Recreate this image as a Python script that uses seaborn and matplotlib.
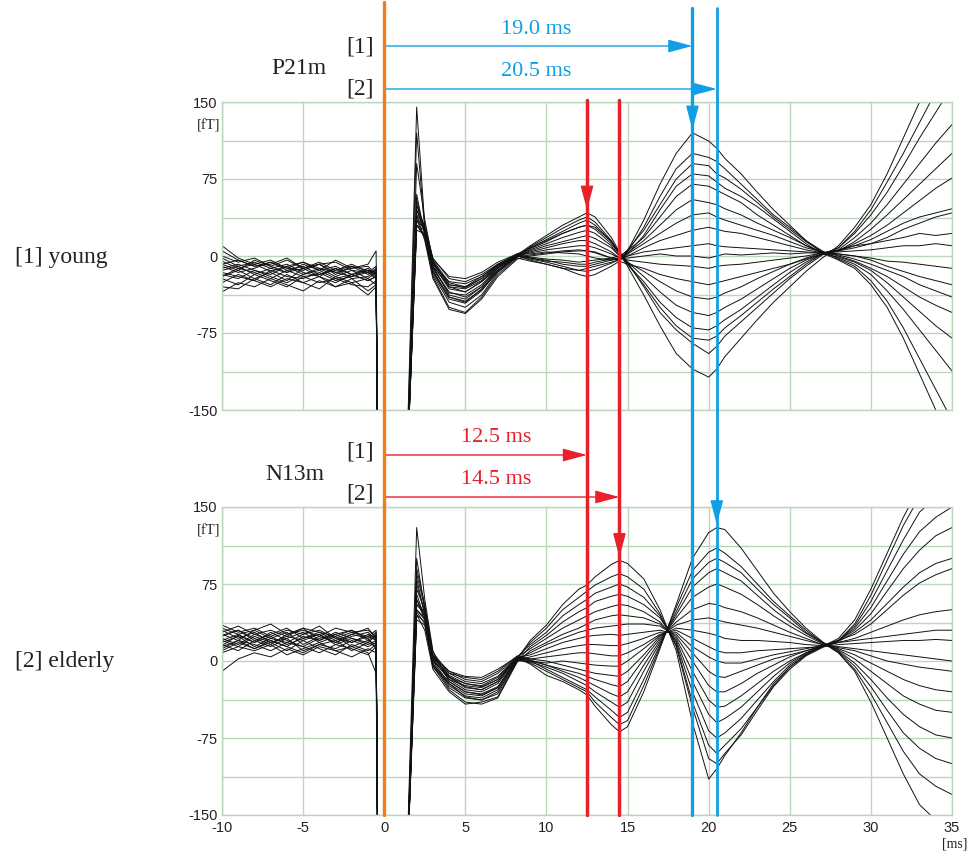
import numpy as np
import pandas as pd
import matplotlib
matplotlib.use('Agg')
import matplotlib.pyplot as plt
import matplotlib.transforms as mtransforms
from matplotlib.lines import Line2D
import seaborn as sns

sns.set_style('white')
plt.rcParams['font.family'] = ['Liberation Sans', 'DejaVu Sans']
plt.rcParams['axes.unicode_minus'] = False

# sampling times (ms)
time_ms = [-10, -9, -8, -7, -6, -5, -4, -3, -2, -1, -0.5,
           -0.3, 1.3,
           2, 2.5, 3, 4, 5, 6, 7, 8.2,
           9, 10, 11, 12, 12.5, 13, 14, 14.5, 15, 16, 17, 18, 19, 20, 20.5, 21,
           22, 23, 24, 25, 26, 27, 28, 29, 30, 31, 32, 33, 34, 35]

# [1] young, waveforms in fT
young_traces = [
    [-5, -12, -8, -15, -10, -18, -12, -20, -14, -22, -16, -400, -250, 145, 30, -10, -30, -35, -25, -12, 0,
     -4, -8, -12, -18, -20, -18, -10, -5, 5, 35, 70, 100, 120, 112, 105, 95,
     80, 62, 45, 30, 15, 3, -4, -12, -28, -50, -80, -115, -150, -185],
    [10, -2, -8, -4, -12, -6, -14, -10, -18, -12, -20, -400, -250, 120, 25, -15, -40, -45, -32, -15, 0,
     -3, -6, -10, -14, -15, -13, -7, -3, 4, 28, 58, 85, 100, 96, 92, 85,
     70, 55, 40, 28, 15, 5, -3, -10, -24, -44, -70, -100, -130, -160],
    [-20, -14, -22, -16, -24, -12, -20, -26, -18, -24, -20, -400, -250, 90, 35, -5, -28, -30, -22, -10, 2,
     -2, -4, -8, -10, -10, -8, -4, -2, 6, 25, 50, 75, 90, 88, 80, 76,
     65, 52, 38, 26, 14, 4, -2, -8, -18, -34, -52, -72, -92, -112],
    [-30, -32, -22, -28, -18, -26, -20, -30, -22, -34, -28, -400, -250, 60, 20, -20, -50, -55, -40, -18, -2,
     -5, -8, -12, -14, -12, -10, -6, -4, 2, 20, 45, 68, 80, 78, 72, 66,
     58, 48, 36, 24, 12, 2, -1, -6, -14, -26, -40, -54, -68, -80],
    [-8, -4, -10, -6, -12, -14, -8, -16, -12, -10, -18, -400, -250, 50, 28, -8, -25, -27, -20, -8, 1,
     -1, -3, -4, -6, -5, -4, -2, 0, 5, 18, 38, 58, 70, 68, 64, 60,
     52, 40, 30, 20, 10, 4, 0, -5, -12, -20, -30, -40, -48, -55],
    [0, -6, -2, -10, -4, -12, -8, -6, -14, -16, -10, -400, -250, 45, 22, -12, -35, -40, -30, -14, 0,
     -2, -5, -6, -8, -8, -6, -3, -2, 3, 15, 30, 45, 55, 52, 50, 46,
     40, 32, 25, 18, 10, 3, 1, -3, -8, -14, -20, -28, -34, -40],
    [-14, -10, -18, -12, -8, -16, -20, -12, -18, -14, -22, -400, -250, 40, 30, -2, -22, -25, -18, -8, 2,
     2, 4, 3, 2, 0, -2, -4, -3, 2, 12, 22, 32, 40, 42, 38, 35,
     30, 25, 20, 14, 8, 4, 2, 0, -4, -10, -15, -20, -24, -28],
    [-22, -28, -18, -24, -30, -20, -26, -22, -28, -30, -24, -400, -250, 35, 18, -18, -45, -50, -38, -16, -1,
     1, 3, 5, 6, 5, 4, -2, -4, 0, 8, 15, 20, 25, 28, 26, 24,
     22, 18, 14, 10, 6, 3, 2, 0, -2, -5, -6, -8, -10, -12],
    [-10, -16, -12, -6, -14, -10, -18, -14, -8, -16, -14, -400, -250, 30, 25, -6, -30, -32, -24, -10, 0,
     3, 6, 8, 10, 10, 8, 2, -2, 0, 4, 6, 8, 10, 12, 10, 9,
     8, 7, 6, 5, 4, 3, 4, 5, 6, 8, 10, 10, 12, 10],
    [5, -4, -10, -8, -2, -12, -6, -14, -10, -18, -12, -400, -250, 30, 20, -10, -38, -42, -30, -12, 1,
     4, 8, 12, 15, 15, 12, 4, -2, -2, 0, 2, 0, 0, -2, 0, 2,
     1, 2, 3, 2, 3, 3, 6, 10, 12, 15, 18, 22, 20, 22],
    [-18, -22, -14, -20, -26, -18, -14, -22, -18, -24, -20, -400, -250, 35, 26, -4, -26, -30, -20, -9, 0,
     5, 10, 14, 18, 20, 17, 8, 0, -4, -6, -8, -9, -10, -12, -10, -9,
     -8, -6, -4, -2, 0, 3, 5, 8, 12, 18, 26, 32, 38, 42],
    [-35, -26, -30, -22, -28, -34, -24, -30, -26, -38, -30, -400, -250, 40, 15, -22, -52, -56, -42, -20, -3,
     0, 2, 4, 5, 5, 3, -2, -5, -8, -12, -18, -22, -25, -28, -26, -24,
     -20, -16, -12, -8, -3, 2, 5, 10, 16, 24, 32, 38, 42, 46],
    [-12, -8, -14, -18, -10, -6, -12, -16, -20, -14, -18, -400, -250, 25, 22, -8, -32, -35, -25, -11, 1,
     6, 12, 18, 23, 25, 22, 10, 0, -6, -15, -25, -34, -40, -42, -40, -36,
     -30, -22, -15, -8, -2, 3, 5, 12, 20, 30, 42, 54, 66, 76],
    [-2, -10, -6, -12, -16, -8, -14, -4, -12, -8, 5, -400, -250, 45, 28, -3, -20, -22, -16, -6, 2,
     8, 15, 22, 28, 30, 26, 12, 2, -6, -20, -35, -48, -55, -58, -55, -50,
     -42, -32, -22, -12, -4, 2, 5, 14, 26, 40, 55, 70, 85, 100],
    [-16, -20, -24, -14, -20, -22, -16, -24, -20, -16, -22, -400, -250, 50, 24, -12, -36, -38, -28, -12, 0,
     8, 16, 24, 32, 35, 30, 14, 2, -8, -25, -45, -60, -70, -72, -68, -62,
     -52, -40, -28, -16, -6, 2, 6, 18, 32, 50, 70, 90, 110, 128],
    [-26, -18, -24, -30, -22, -26, -32, -20, -26, -22, -28, -400, -250, 30, 18, -16, -42, -46, -34, -15, -1,
     9, 18, 27, 35, 38, 33, 15, 3, -8, -28, -50, -68, -80, -82, -78, -70,
     -58, -45, -32, -20, -8, 2, 8, 22, 40, 62, 88, 115, 140, 165],
    [-8, -14, -4, -10, -16, -12, -8, -18, -10, -14, -16, -400, -250, 38, 26, -6, -28, -31, -22, -9, 1,
     10, 20, 30, 38, 42, 38, 18, 4, -6, -30, -55, -72, -85, -95, -88, -78,
     -64, -50, -36, -22, -10, 1, 8, 24, 45, 72, 100, 130, 160, 190],
    [-20, -12, -16, -22, -14, -20, -18, -12, -22, -20, -14, -400, -250, 55, 22, -14, -40, -44, -33, -14, 0,
     7, 14, 22, 28, 30, 28, 14, 2, -10, -38, -68, -95, -110, -118, -110, -98,
     -80, -62, -45, -30, -15, -2, 10, 28, 50, 80, 115, 150, 185, 215],
]

# [2] elderly, waveforms in fT
elderly_traces = [
    [30, 22, 28, 18, 24, 20, 26, 16, 22, 18, 25, -400, -250, 130, 60, 10, -20, -30, -32, -25, 2,
     20, 35, 55, 70, 74, 82, 94, 98, 95, 80, 50, 10, -60, -115, -105, -92,
     -70, -45, -22, -6, 6, 14, 22, 40, 70, 105, 140, 170, 190, 200],
    [15, 25, 18, 28, 20, 14, 22, 26, 18, 24, 20, -400, -250, 100, 50, 5, -15, -25, -28, -20, 3,
     18, 32, 50, 62, 68, 74, 82, 85, 82, 70, 46, 14, -45, -95, -100, -90,
     -72, -48, -25, -8, 5, 13, 20, 36, 64, 98, 132, 160, 180, 190],
    [35, 28, 32, 24, 30, 26, 34, 22, 28, 30, 24, -400, -250, 90, 55, 8, -12, -20, -22, -15, 4,
     16, 28, 44, 55, 60, 66, 72, 75, 72, 62, 44, 16, -40, -82, -90, -82,
     -66, -45, -24, -6, 6, 14, 20, 34, 58, 88, 118, 145, 160, 170],
    [10, 18, 12, 20, 14, 8, 16, 12, 20, 14, 18, -400, -250, 80, 45, 0, -22, -35, -38, -32, 0,
     14, 25, 38, 48, 52, 58, 63, 65, 63, 55, 42, 18, -30, -68, -75, -70,
     -56, -38, -20, -4, 7, 15, 20, 32, 52, 78, 104, 126, 140, 150],
    [25, 30, 20, 26, 32, 22, 28, 24, 30, 20, 26, -400, -250, 70, 50, 6, -10, -18, -20, -12, 4,
     12, 22, 32, 40, 44, 48, 53, 55, 54, 48, 38, 20, -20, -52, -60, -56,
     -45, -30, -15, -2, 8, 15, 20, 30, 46, 68, 90, 108, 122, 130],
    [-10, 2, 8, 4, 12, 6, 14, 10, 4, 12, 8, -400, -250, 60, 40, -5, -28, -40, -42, -36, -1,
     10, 18, 26, 32, 36, 40, 44, 45, 44, 42, 36, 22, -10, -38, -45, -44,
     -34, -22, -10, 0, 8, 14, 19, 28, 40, 56, 72, 86, 95, 100],
    [20, 14, 24, 18, 22, 28, 18, 24, 14, 20, 16, -400, -250, 55, 45, 2, -18, -28, -30, -22, 2,
     8, 16, 22, 28, 30, 32, 34, 35, 36, 36, 34, 24, 0, -24, -30, -30,
     -22, -12, -4, 4, 10, 15, 20, 26, 36, 50, 64, 76, 84, 90],
    [28, 34, 26, 30, 24, 32, 28, 20, 26, 32, 22, -400, -250, 50, 42, 4, -14, -22, -25, -18, 3,
     6, 12, 18, 22, 24, 25, 26, 25, 26, 28, 30, 26, 8, -10, -15, -16,
     -10, -4, 2, 6, 10, 14, 18, 22, 28, 34, 40, 45, 48, 50],
    [12, 20, 16, 10, 18, 14, 8, 16, 12, 6, 14, -400, -250, 45, 38, -2, -24, -34, -36, -28, 1,
     4, 8, 12, 15, 16, 16, 15, 15, 17, 22, 28, 28, 14, 4, 0, -2,
     -2, 2, 6, 9, 12, 15, 18, 20, 22, 24, 26, 28, 30, 30],
    [22, 16, 26, 20, 14, 24, 20, 28, 22, 16, 20, -400, -250, 40, 35, -4, -20, -30, -33, -26, 2,
     2, 4, 6, 8, 8, 7, 5, 5, 8, 16, 26, 30, 22, 14, 10, 8,
     8, 10, 11, 12, 13, 14, 16, 17, 18, 19, 20, 20, 21, 20],
    [18, 24, 14, 22, 28, 16, 24, 18, 26, 22, 12, -400, -250, 50, 40, 0, -16, -26, -28, -20, 3,
     0, -2, 0, -2, -3, -4, -5, -5, 0, 12, 25, 32, 30, 27, 25, 22,
     20, 20, 19, 18, 16, 15, 14, 12, 10, 8, 6, 4, 2, 0],
    [32, 26, 30, 36, 26, 30, 24, 32, 28, 24, 30, -400, -250, 60, 44, 3, -12, -16, -18, -10, 5,
     2, 0, -4, -8, -10, -12, -14, -15, -10, 6, 24, 35, 40, 42, 40, 38,
     35, 32, 28, 24, 20, 16, 13, 10, 5, 0, -3, -6, -8, -10],
    [8, 14, 10, 16, 6, 12, 18, 10, 14, 8, -12, -400, -250, 45, 30, -8, -30, -42, -40, -35, 0,
     0, -4, -8, -12, -15, -18, -23, -25, -20, 2, 22, 38, 50, 56, 55, 52,
     48, 42, 35, 28, 22, 16, 12, 6, -2, -10, -18, -24, -28, -30],
    [26, 20, 30, 22, 18, 26, 30, 22, 18, 26, 22, -400, -250, 55, 48, 5, -10, -15, -16, -8, 4,
     1, -4, -10, -16, -20, -24, -32, -35, -30, -4, 20, 42, 62, 72, 75, 72,
     65, 55, 44, 34, 25, 17, 11, 2, -10, -22, -34, -42, -48, -50],
    [16, 10, 20, 14, 22, 10, 16, 20, 10, 18, 14, -400, -250, 65, 42, -3, -26, -36, -38, -30, 1,
     -1, -6, -12, -20, -24, -30, -40, -45, -40, -10, 18, 45, 72, 86, 90, 86,
     78, 64, 50, 38, 27, 18, 10, -2, -18, -36, -52, -64, -72, -75],
    [24, 30, 22, 16, 26, 32, 20, 26, 30, 22, 28, -400, -250, 75, 46, 2, -18, -24, -26, -18, 3,
     0, -8, -16, -24, -28, -35, -48, -55, -50, -18, 16, 48, 80, 96, 100, 96,
     86, 70, 55, 42, 28, 18, 9, -5, -25, -48, -70, -85, -95, -100],
    [14, 20, 12, 18, 10, 20, 12, 6, 16, 10, 16, -400, -250, 48, 36, -6, -22, -32, -34, -26, 2,
     -2, -10, -18, -26, -30, -40, -55, -62, -58, -24, 14, 52, 88, 106, 110, 105,
     92, 75, 58, 44, 30, 18, 8, -8, -32, -60, -88, -110, -122, -130],
    [20, 26, 18, 24, 16, 22, 26, 18, 24, 28, 20, -400, -250, 85, 52, 4, -16, -22, -24, -16, 3,
     -3, -14, -20, -28, -33, -44, -62, -69, -64, -30, 12, 55, 100, 125, 130, 128,
     110, 88, 66, 48, 32, 19, 8, -10, -40, -75, -110, -140, -155, -160],
]

# peak latencies (ms): [1] young, [2] elderly
n13m_latency = [12.5, 14.5]
p21m_latency = [19.0, 20.5]


def to_long(traces):
    rows = []
    for i, tr in enumerate(traces):
        for t, v in zip(time_ms, tr):
            rows.append((i, t, v))
    return pd.DataFrame(rows, columns=['trace', 't', 'fT'])


W, H = 979, 852
fig = plt.figure(figsize=(W / 100, H / 100), dpi=100)
ax1 = fig.add_axes([222 / W, 1 - 410 / H, 730 / W, 308 / H])
ax2 = fig.add_axes([222 / W, 1 - 815 / H, 730 / W, 308 / H])

grid_col = '#bcd6bc'
serif = ['Liberation Serif', 'DejaVu Serif']
orange = '#ee7d1e'
blue = '#109fe6'
red = '#e8202a'
txt = '#222222'

for ax, traces in [(ax1, young_traces), (ax2, elderly_traces)]:
    sns.lineplot(data=to_long(traces), x='t', y='fT', units='trace', estimator=None,
                 color='#111111', lw=0.7, ax=ax)
    ax.set_xlim(-10, 35)
    ax.set_ylim(-150, 150)
    ax.set_xticks(np.arange(-10, 36, 5))
    ax.set_yticks([-150, -75, 0, 75, 150])
    ax.set_yticks([-112.5, -37.5, 37.5, 112.5], minor=True)
    ax.grid(True, which='both', color=grid_col, lw=1)
    ax.set_axisbelow(True)
    ax.tick_params(which='both', length=0, labelsize=10.5, labelcolor=txt)
    ax.tick_params(axis='y', pad=3)
    ax.tick_params(axis='x', pad=4)
    for s in ax.spines.values():
        s.set_color(grid_col)
        s.set_linewidth(1)
    ax.set_xlabel('')
    ax.set_ylabel('')
    ax.text(-0.002, 0.922, '[fT]', transform=ax.transAxes, ha='right', va='center',
            family=serif, fontsize=10.5, color=txt)

ax1.tick_params(labelbottom=False)
ax2.text(1.003, -0.095, '[ms]', transform=ax2.transAxes, ha='center', va='center',
         family=serif, fontsize=10, color=txt)

# latency marker lines spanning both panels
trans = mtransforms.blended_transform_factory(ax2.transData, fig.transFigure)
fig.add_artist(Line2D([0, 0], [1 - 2 / H, 1 - 815 / H], transform=trans, color=orange, lw=2.4))
for lat, lw in zip(p21m_latency, [2.4, 2.0]):
    fig.add_artist(Line2D([lat, lat], [1 - 8 / H, 1 - 815 / H], transform=trans, color=blue, lw=lw))
for lat in n13m_latency:
    fig.add_artist(Line2D([lat, lat], [1 - 100 / H, 1 - 815 / H], transform=trans, color=red, lw=2.5))

head = '-|>,head_length=1.5,head_width=0.4'


def arrow(ax, xy, xytext, color, coords):
    ax.annotate('', xy=xy, xytext=xytext, xycoords=coords, textcoords=coords,
                annotation_clip=False,
                arrowprops=dict(arrowstyle=head, color=color, lw=1.0, shrinkA=0, shrinkB=0,
                                mutation_scale=10))


# horizontal latency arrows
for lat, ypx in zip(p21m_latency, [46, 89]):
    arrow(ax2, (lat, 1 - ypx / H), (0, 1 - ypx / H), blue, trans)
for lat, ypx in zip(n13m_latency, [455, 497]):
    arrow(ax2, (lat, 1 - ypx / H), (0, 1 - ypx / H), red, trans)


# downward arrow heads pointing at peaks
def peak_at(traces, t):
    k = time_ms.index(t)
    return max(tr[k] for tr in traces) + 3


for ax, traces, lat, col in [(ax1, young_traces, p21m_latency[0], blue),
                             (ax1, young_traces, n13m_latency[0], red),
                             (ax2, elderly_traces, n13m_latency[1], red),
                             (ax2, elderly_traces, p21m_latency[1], blue)]:
    tip = peak_at(traces, lat)
    arrow(ax, (lat, tip), (lat, tip + 25), col, 'data')


# labels
def ftext(x, y, s, **kw):
    fig.text(x / W, 1 - y / H, s, va='center', family=serif, **kw)


ftext(299, 68, 'P21m', ha='center', fontsize=17, color=txt)
ftext(360, 47, '[1]', ha='center', fontsize=17, color=txt)
ftext(360, 89, '[2]', ha='center', fontsize=17, color=txt)
ftext(295, 474, 'N13m', ha='center', fontsize=17, color=txt)
ftext(360, 452, '[1]', ha='center', fontsize=17, color=txt)
ftext(360, 494, '[2]', ha='center', fontsize=17, color=txt)
ftext(15, 257, '[1] young', ha='left', fontsize=17, color=txt)
ftext(15, 661, '[2] elderly', ha='left', fontsize=17, color=txt)
ftext(536, 30, f'{p21m_latency[0]:.1f} ms', ha='center', fontsize=16, color=blue)
ftext(536, 71, f'{p21m_latency[1]:.1f} ms', ha='center', fontsize=16, color=blue)
ftext(496, 438, f'{n13m_latency[0]:.1f} ms', ha='center', fontsize=16, color=red)
ftext(496, 480, f'{n13m_latency[1]:.1f} ms', ha='center', fontsize=16, color=red)

fig.savefig('out.png', dpi=100)
